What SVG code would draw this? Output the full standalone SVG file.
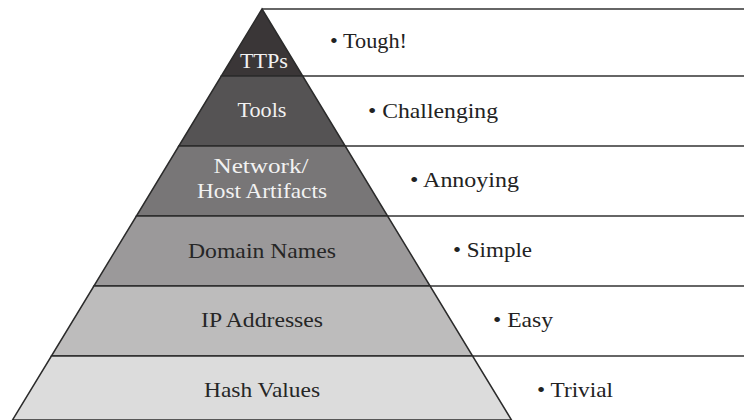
<svg xmlns="http://www.w3.org/2000/svg" width="744" height="420" viewBox="0 0 744 420">
<style>
.band{stroke:#2b2b2b;stroke-width:1.5;stroke-linejoin:miter}
.row{stroke:#333;stroke-width:1.5;fill:none}
text{font-family:"Liberation Serif","Times New Roman",serif;font-size:22px}
.lt{fill:#f2f2f2;text-anchor:middle}
.dk{fill:#262626;text-anchor:middle}
.desc{fill:#222}
</style>
<rect width="744" height="420" fill="#ffffff"/>
<g id="rows">
<line class="row" x1="262" y1="9" x2="744" y2="9"/>
<line class="row" x1="302.7" y1="76" x2="744" y2="76"/>
<line class="row" x1="345.2" y1="146" x2="744" y2="146"/>
<line class="row" x1="387.6" y1="216" x2="744" y2="216"/>
<line class="row" x1="430.1" y1="286" x2="744" y2="286"/>
<line class="row" x1="472.6" y1="356" x2="744" y2="356"/>
</g>
<g id="ttps">
<polygon class="band" fill="#3a3637" points="262,9 302.7,76 221.3,76"/>
<text class="lt" x="264" y="68" textLength="48" lengthAdjust="spacingAndGlyphs">TTPs</text>
<text class="desc" x="330" y="48" textLength="77" lengthAdjust="spacingAndGlyphs">• Tough!</text>
</g>
<g id="tools">
<polygon class="band" fill="#555354" points="221.3,76 302.7,76 345.2,146 178.8,146"/>
<text class="lt" x="262" y="117" textLength="49" lengthAdjust="spacingAndGlyphs">Tools</text>
<text class="desc" x="368" y="118" textLength="130" lengthAdjust="spacingAndGlyphs">• Challenging</text>
</g>
<g id="network">
<polygon class="band" fill="#787677" points="178.8,146 345.2,146 387.6,216 136.4,216"/>
<text class="lt" x="261" y="173" textLength="95" lengthAdjust="spacingAndGlyphs">Network/</text>
<text class="lt" x="262" y="198" textLength="130" lengthAdjust="spacingAndGlyphs">Host Artifacts</text>
<text class="desc" x="410" y="187" textLength="109" lengthAdjust="spacingAndGlyphs">• Annoying</text>
</g>
<g id="domain">
<polygon class="band" fill="#9b999a" points="136.4,216 387.6,216 430.1,286 93.9,286"/>
<text class="dk" x="262" y="258" textLength="148" lengthAdjust="spacingAndGlyphs">Domain Names</text>
<text class="desc" x="453" y="257" textLength="79" lengthAdjust="spacingAndGlyphs">• Simple</text>
</g>
<g id="ip">
<polygon class="band" fill="#bdbcbc" points="93.9,286 430.1,286 472.6,356 51.4,356"/>
<text class="dk" x="262" y="327" textLength="122" lengthAdjust="spacingAndGlyphs">IP Addresses</text>
<text class="desc" x="493" y="327" textLength="60" lengthAdjust="spacingAndGlyphs">• Easy</text>
</g>
<g id="hash">
<polygon class="band" fill="#dcdcdc" points="51.4,356 472.6,356 511.5,420 12.5,420"/>
<text class="dk" x="262" y="397" textLength="116" lengthAdjust="spacingAndGlyphs">Hash Values</text>
<text class="desc" x="537" y="397" textLength="76" lengthAdjust="spacingAndGlyphs">• Trivial</text>
</g>
</svg>
